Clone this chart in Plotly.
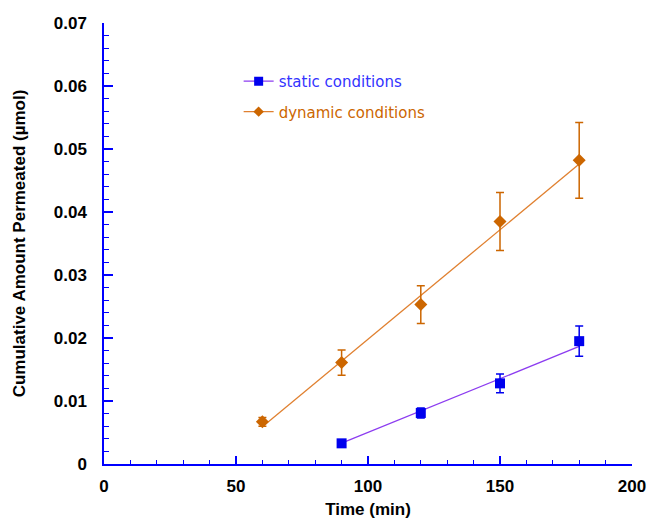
import plotly.graph_objects as go

# Data
time_static = [90, 120, 150, 180]
amount_static = [0.00328, 0.0081, 0.0128, 0.0195]
err_static = [0.0003, 0.0008, 0.0015, 0.0024]

time_dynamic = [60, 90, 120, 150, 180]
amount_dynamic = [0.0067, 0.0161, 0.0253, 0.0385, 0.0482]
err_dynamic = [0.0007, 0.002, 0.003, 0.0046, 0.006]

# Linear fit lines (endpoints)
fit_static_x = [90, 180]
fit_static_y = [0.0033, 0.01866]
fit_dynamic_x = [60, 180]
fit_dynamic_y = [0.0059, 0.0476]

c_static_mk = "#0000ee"
c_static_ln = "#8c3cf0"
c_static_tx = "#3333ff"
c_dyn_mk = "#cc6600"
c_dyn_ln = "#e08030"
c_dyn_tx = "#cc6600"

fig = go.Figure()

fig.add_trace(go.Scatter(x=fit_static_x, y=fit_static_y, mode="lines",
                         line=dict(color=c_static_ln, width=1.3), showlegend=False, hoverinfo="skip"))
fig.add_trace(go.Scatter(x=fit_dynamic_x, y=fit_dynamic_y, mode="lines",
                         line=dict(color=c_dyn_ln, width=1.3), showlegend=False, hoverinfo="skip"))

fig.add_trace(go.Scatter(x=time_static, y=amount_static, mode="markers",
                         marker=dict(symbol="square", size=10, color=c_static_mk),
                         error_y=dict(type="data", array=err_static, color=c_static_mk, thickness=1.5, width=4),
                         showlegend=False))
fig.add_trace(go.Scatter(x=time_dynamic, y=amount_dynamic, mode="markers",
                         marker=dict(symbol="diamond", size=10, color=c_dyn_mk),
                         error_y=dict(type="data", array=err_dynamic, color=c_dyn_mk, thickness=1.5, width=4),
                         showlegend=False))

# legend entries
fig.add_trace(go.Scatter(x=[None], y=[None], mode="lines+markers",
                         name=f"<span style='color:{c_static_tx}'>static conditions</span>",
                         line=dict(color=c_static_ln, width=1.3),
                         marker=dict(symbol="square", size=9, color=c_static_mk),
                         legendgroup="a"))
fig.add_trace(go.Scatter(x=[None], y=[None], mode="lines+markers",
                         name=f"<span style='color:{c_dyn_tx}'>dynamic conditions</span>",
                         line=dict(color=c_dyn_ln, width=1.3),
                         marker=dict(symbol="diamond", size=8, color=c_dyn_mk),
                         legendgroup="b"))

axis_font = dict(family="Liberation Sans, Arial", size=17, color="black", weight="bold")
tick_font = dict(family="Liberation Sans, Arial", size=17, color="black", weight="bold")

fig.update_layout(
    width=647, height=519,
    margin=dict(l=104, r=15, t=23, b=55, autoexpand=False),
    plot_bgcolor="white", paper_bgcolor="white",
    legend=dict(x=0.255, y=0.905, xanchor="left", yanchor="top",
                font=dict(family="DejaVu Sans, Verdana", size=15),
                bgcolor="rgba(0,0,0,0)", tracegroupgap=8),
    xaxis=dict(range=[0, 200], tickvals=[0, 50, 100, 150, 200],
               showgrid=False, zeroline=False, automargin=False,
               showline=True, linecolor="#0000ff", linewidth=1.5,
               ticks="inside", ticklen=8, tickcolor="#0000ff", tickwidth=1.5,
               minor=dict(dtick=10, ticks="inside", ticklen=4, tickcolor="#0000ff", tickwidth=1.2, showgrid=False),
               tickfont=tick_font, ticklabelstandoff=6,
               title=dict(text="Time (min)", font=axis_font, standoff=12)),
    yaxis=dict(range=[0, 0.07], tickvals=[0, 0.01, 0.02, 0.03, 0.04, 0.05, 0.06, 0.07],
               ticktext=["0", "0.01", "0.02", "0.03", "0.04", "0.05", "0.06", "0.07"],
               showgrid=False, zeroline=False, automargin=False,
               showline=True, linecolor="#0000ff", linewidth=1.5,
               ticks="inside", ticklen=9, tickcolor="#0000ff", tickwidth=1.5,
               minor=dict(dtick=0.002, ticks="inside", ticklen=5, tickcolor="#0000ff", tickwidth=1.2, showgrid=False),
               tickfont=tick_font, ticklabelstandoff=12,
               title=dict(text="Cumulative Amount Permeated (µmol)", font=axis_font, standoff=24)),
)

fig.write_html("out.html")
